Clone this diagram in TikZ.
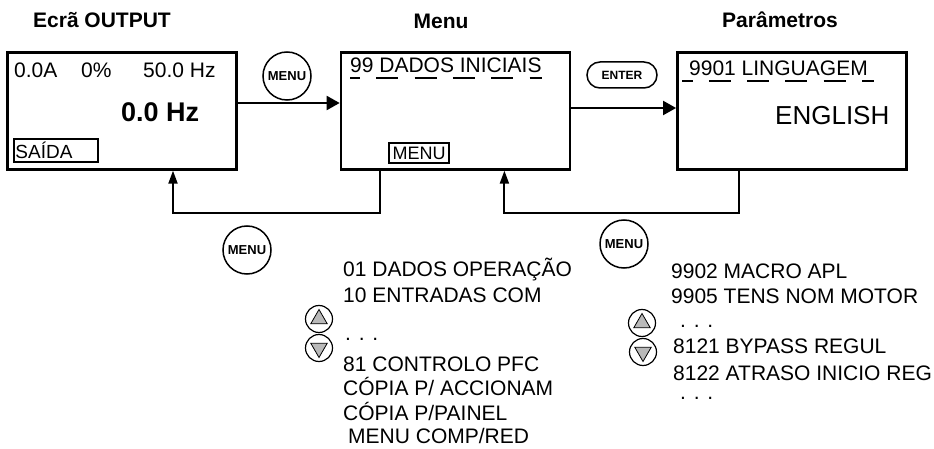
\documentclass[tikz,border=0pt]{standalone}
\usepackage{fontspec}
\setmainfont{Liberation Sans}
\usetikzlibrary{shapes.geometric,arrows.meta,positioning,calc}
\newcommand{\pxfont}[1]{\fontsize{#1}{#1}\selectfont}
\tikzset{
    screen/.style={rectangle, draw, line width=2.4pt, minimum width=229pt, minimum height=117pt, inner sep=0},
    title/.style={font=\pxfont{21}\bfseries, inner sep=0},
    lcd/.style={font=\pxfont{21}, inner sep=0},
    big/.style={font=\pxfont{27}\bfseries, inner sep=0},
    large/.style={font=\pxfont{26}, inner sep=0},
    softkey/.style={rectangle, draw, line width=1.8pt, font=\pxfont{19}, inner sep=0},
    button/.style={circle, draw, line width=1.5pt, minimum size=48pt, inner sep=0, font=\pxfont{13}\bfseries},
    enterkey/.style={rectangle, rounded corners=13pt, draw, line width=1.5pt, minimum width=70pt, minimum height=26pt, inner sep=0, font=\pxfont{12}\bfseries},
    arrowkey/.style={circle, draw, line width=1.2pt, minimum size=27pt, inner sep=0},
    tri/.style={regular polygon, regular polygon sides=3, draw, line width=0.8pt, fill=gray!55, minimum size=19pt, inner sep=0},
    uline/.style={line width=1.5pt, dash pattern=on 22pt off 16.3pt},
    flow/.style={-{Triangle[length=13pt,width=14pt]}, line width=2pt},
    back/.style={-{Triangle[length=13pt,width=9pt]}, line width=2pt},
}
\begin{document}
\begin{tikzpicture}[x=1pt, y=-1pt]
    \useasboundingbox (0,0) rectangle (934,449);

    % the three screens
    \node[screen] (scr) at (122,111) {};
    \node[screen, right=102pt of scr] (menu) {};
    \node[screen, right=105pt of menu] (par) {};

    \node[title, anchor=base] (t1) at (102,28) {Ecrã OUTPUT};
    \node[title, anchor=base] (t2) at (441,29) {Menu};
    \node[title, anchor=base] (t3) at (780,28) {Parâmetros};

    % output screen
    \node[lcd, anchor=base west] (amp) at (14,77.5) {0.0A};
    \node[lcd, anchor=base west] (pct) at (81,77.5) {0\%};
    \node[lcd, anchor=base west] (ref) at (143,77.5) {50.0 Hz};
    \node[big, anchor=base west] (freq) at (121,122) {0.0 Hz};
    \node[softkey, minimum width=84pt, minimum height=23pt, text width=81pt, align=left] (out) at (56,150.5) {SAÍDA};

    % menu screen
    \node[lcd, anchor=base west] (grp) at (350,73) {99 DADOS INICIAIS};
    \draw[uline, dash phase=12pt] ([yshift=-5pt]grp.base west) -- ([yshift=-5pt]grp.base east);
    \node[softkey, font=\pxfont{18}, minimum width=60pt, minimum height=20pt] (mkey) at (419,153) {MENU};

    % parameter screen
    \node[lcd, anchor=base west] (prm) at (689,76) {9901 LINGUAGEM};
    \draw[uline, dash phase=11.5pt] ([xshift=-7pt,yshift=-5pt]prm.base west) -- ([xshift=6pt,yshift=-5pt]prm.base east);
    \node[large, anchor=base west] (val) at (775,125) {ENGLISH};

    % keys
    \node[button] (mb1) at (287,76) {MENU};
    \node[enterkey] (ent) at (622,75) {ENTER};
    \node[button] (mb2) at (247,250) {MENU};
    \node[button] (mb3) at (624,244) {MENU};

    \draw[flow] ([yshift=8pt]scr.east) -- ([yshift=8pt]scr.east -| menu.west);
    \draw[flow] ([yshift=3pt]menu.east) -- ([yshift=3pt]menu.east -| par.west);
    \draw[back] ([xshift=-75pt]menu.south) -- ++(0,42) -| ([xshift=51pt]scr.south);
    \draw[back] ([xshift=-53pt]par.south) -- ++(0,42) -| ([xshift=49pt]menu.south);

    % up / down keys
    \node[arrowkey] (upL) at (319,319) {};
    \node[tri] (upLt) at (upL) {};
    \node[arrowkey] (dnL) at (319,348) {};
    \node[tri, shape border rotate=180] (dnLt) at (dnL) {};
    \node[arrowkey] (upR) at (642,323) {};
    \node[tri] (upRt) at (upR) {};
    \node[arrowkey] (dnR) at (643,352) {};
    \node[tri, shape border rotate=180] (dnRt) at (dnR) {};

    % group list
    \node[lcd, anchor=base west] (g1) at (343,276) {01 DADOS OPERAÇÃO};
    \node[lcd, anchor=base west] (g2) at (343,302) {10 ENTRADAS COM};
    \node[lcd, anchor=base west] (g3) at (345,340) {. . .};
    \node[lcd, anchor=base west] (g4) at (343,371) {81 CONTROLO PFC};
    \node[lcd, anchor=base west] (g5) at (343,395) {CÓPIA P/ ACCIONAM};
    \node[lcd, anchor=base west] (g6) at (343,420) {CÓPIA P/PAINEL};
    \node[lcd, anchor=base west] (g7) at (348,443) {MENU COMP/RED};

    % parameter list
    \node[lcd, anchor=base west] (p1) at (671,278) {9902 MACRO APL};
    \node[lcd, anchor=base west] (p2) at (671,303) {9905 TENS NOM MOTOR};
    \node[lcd, anchor=base west] (p3) at (680,327) {. . .};
    \node[lcd, anchor=base west] (p4) at (673,353) {8121 BYPASS REGUL};
    \node[lcd, anchor=base west] (p5) at (673,380) {8122 ATRASO INICIO REG};
    \node[lcd, anchor=base west] (p6) at (680,399) {. . .};
\end{tikzpicture}
\end{document}
